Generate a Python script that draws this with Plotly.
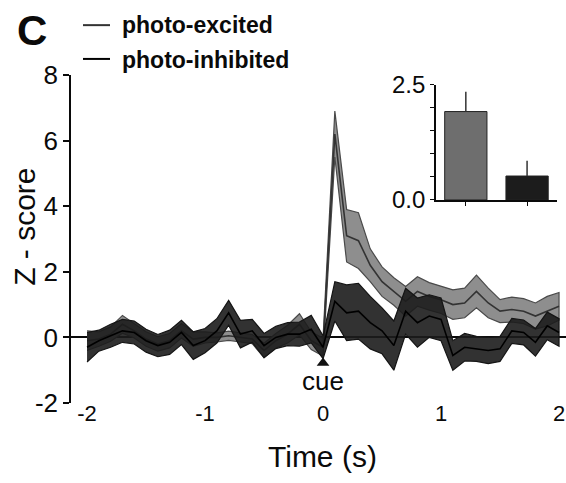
import plotly.graph_objects as go

# ---------------- data ----------------
time_s = [round(-2.0 + 0.1 * i, 1) for i in range(41)]

excited_mean = [-0.1, -0.05, 0.1, 0.4, 0.2, -0.05, -0.2, -0.1, 0.2, -0.05,
                0.0, 0.0, 0.05, 0.0, -0.05, -0.4, -0.1, 0.1, 0.4, -0.1, -0.3,
                6.2, 3.1, 2.95, 2.2, 1.7, 1.4, 1.1, 1.4, 1.25, 1.15,
                1.0, 1.05, 1.4, 1.05, 0.8, 0.85, 0.8, 0.65, 0.8, 0.95]
excited_sem = [0.3, 0.22, 0.22, 0.27, 0.22, 0.22, 0.22, 0.22, 0.22, 0.22,
               0.17, 0.14, 0.14, 0.14, 0.14, 0.22, 0.22, 0.27, 0.32, 0.27, 0.27,
               0.7, 0.8, 0.85, 0.5, 0.45, 0.42, 0.45, 0.45, 0.42, 0.42,
               0.45, 0.45, 0.5, 0.45, 0.35, 0.38, 0.38, 0.4, 0.45, 0.42]

inhibited_mean = [-0.3, -0.1, 0.05, 0.2, 0.15, -0.1, -0.25, -0.15, 0.15, -0.25,
                  -0.1, 0.2, 0.75, 0.1, 0.2, -0.25, 0.0, 0.1, 0.1, 0.25, -0.3,
                  1.1, 0.75, 0.8, 0.45, 0.2, -0.25, 0.8, 0.45, 0.65, 0.55,
                  -0.55, -0.3, -0.35, -0.4, -0.35, 0.2, 0.15, -0.15, 0.35, 0.15]
inhibited_sem = [0.45, 0.32, 0.35, 0.35, 0.35, 0.35, 0.34, 0.37, 0.37, 0.42,
                 0.37, 0.37, 0.38, 0.42, 0.35, 0.37, 0.34, 0.35, 0.37, 0.42, 0.35,
                 0.6, 0.85, 0.85, 0.8, 0.7, 0.75, 0.7, 0.75, 0.65, 0.65,
                 0.45, 0.42, 0.38, 0.4, 0.38, 0.38, 0.38, 0.42, 0.42, 0.42]

cue_time = [0.0]
cue_marker_y = [-0.78]
cue_label_y = -1.33

inset_groups = [0, 1]
inset_names = ["photo-excited", "photo-inhibited"]
inset_values = [1.92, 0.52]
inset_errors = [0.43, 0.33]

y_ticks = [-2, 0, 2, 4, 6, 8]
y_ticktext = ["-2", "0", "2", "4", "6", "8"]
x_ticks = [-2, -1, 0, 1, 2]
x_ticktext = ["-2", "-1", "0", "1", "2"]
inset_ticks = [0, 0.5, 1.0, 1.5, 2.0, 2.5]
inset_ticktext = ["0.0", "", "", "", "", "2.5"]

FONT = "Liberation Sans, Arial, Helvetica, sans-serif"
INK = "#0a0a0a"


def band(mean, sem):
    up = [m + s for m, s in zip(mean, sem)]
    lo = [m - s for m, s in zip(mean, sem)]
    return time_s + time_s[::-1], up + lo[::-1]


fig = go.Figure()

bx, by = band(excited_mean, excited_sem)
fig.add_trace(go.Scatter(x=bx, y=by, fill="toself", fillcolor="#8e8e8e",
                         line=dict(color="#4a4a4a", width=1.2), mode="lines",
                         hoverinfo="skip", showlegend=False))
fig.add_trace(go.Scatter(x=time_s, y=excited_mean, mode="lines",
                         line=dict(color="#333333", width=1.6),
                         name="photo-excited", showlegend=False))

bx, by = band(inhibited_mean, inhibited_sem)
fig.add_trace(go.Scatter(x=bx, y=by, fill="toself", fillcolor="rgba(28,28,28,0.9)",
                         line=dict(color="#151515", width=1.2), mode="lines",
                         hoverinfo="skip", showlegend=False))
fig.add_trace(go.Scatter(x=time_s, y=inhibited_mean, mode="lines",
                         line=dict(color="#000000", width=1.6),
                         name="photo-inhibited", showlegend=False))

fig.add_trace(go.Scatter(x=cue_time, y=cue_marker_y, mode="markers",
                         marker=dict(symbol="triangle-up", size=11, color="#111111"),
                         showlegend=False, hoverinfo="skip"))

fig.add_trace(go.Bar(x=inset_groups, y=inset_values, xaxis="x2", yaxis="y2",
                     width=0.69, hovertext=inset_names,
                     marker=dict(color=["#6e6e6e", "#1c1c1c"],
                                 line=dict(color="#222222", width=1)),
                     error_y=dict(type="data", array=inset_errors,
                                  arrayminus=[0, 0], symmetric=False,
                                  width=0, thickness=1.5, color="#333333"),
                     showlegend=False))

fig.update_layout(
    width=566, height=483,
    margin=dict(l=71, r=0, t=75, b=80),
    paper_bgcolor="white", plot_bgcolor="white",
    font=dict(family=FONT, color=INK),
    showlegend=False,
    xaxis=dict(range=[-2.136, 2.059], showline=False, showgrid=False,
               zeroline=False, ticks="", tickvals=x_ticks, ticktext=x_ticktext,
               ticklabelstandoff=-5,
               tickfont=dict(size=22, family=FONT, color=INK)),
    yaxis=dict(range=[-2, 8], showline=True, linecolor=INK, linewidth=1.5,
               ticks="outside", ticklen=6, tickwidth=1.5, tickcolor=INK,
               tickvals=y_ticks, ticktext=y_ticktext, showgrid=False,
               zeroline=True, zerolinecolor=INK, zerolinewidth=1.5,
               tickfont=dict(size=26, family=FONT, color=INK)),
    xaxis2=dict(domain=[0.737, 0.982], anchor="y2", range=[-0.49, 1.49],
                showline=True, linecolor=INK, linewidth=1.5,
                ticks="outside", ticklen=4, tickwidth=1.2, tickcolor=INK,
                tickvals=inset_groups, showticklabels=False,
                showgrid=False, zeroline=False),
    yaxis2=dict(domain=[0.619, 0.970], anchor="x2", range=[0, 2.5],
                showline=True, linecolor=INK, linewidth=1.5,
                ticks="outside", ticklen=4, tickwidth=1.2, tickcolor=INK,
                tickvals=inset_ticks, ticktext=inset_ticktext,
                showgrid=False, zeroline=False,
                tickfont=dict(size=24, family=FONT, color=INK)),
)

ann = [
    dict(text="<b>C</b>", x=-0.0788, y=1.137, xref="paper", yref="paper",
         showarrow=False, font=dict(size=42, family=FONT, color=INK),
         xanchor="center", yanchor="middle"),
    dict(text="<b>photo-excited</b>", x=0.099, y=1.152, xref="paper", yref="paper",
         showarrow=False, font=dict(size=23, family=FONT, color=INK),
         xanchor="left", yanchor="middle"),
    dict(text="<b>photo-inhibited</b>", x=0.099, y=1.046, xref="paper", yref="paper",
         showarrow=False, font=dict(size=23, family=FONT, color=INK),
         xanchor="left", yanchor="middle"),
    dict(text="Z - score", x=-0.093, y=0.537, xref="paper", yref="paper",
         textangle=-90, showarrow=False, font=dict(size=30, family=FONT, color=INK),
         xanchor="center", yanchor="middle"),
    dict(text="Time (s)", x=0.509, y=-0.162, xref="paper", yref="paper",
         showarrow=False, font=dict(size=30, family=FONT, color=INK),
         xanchor="center", yanchor="middle"),
    dict(text="cue", x=cue_time[0], y=cue_label_y, xref="x", yref="y",
         showarrow=False, font=dict(size=26, family=FONT, color=INK),
         xanchor="center", yanchor="middle"),
]
fig.update_layout(annotations=ann)

fig.update_layout(shapes=[
    dict(type="line", xref="paper", yref="paper", x0=0.0242, x1=0.0788,
         y0=1.152, y1=1.152, line=dict(color="#333333", width=2)),
    dict(type="line", xref="paper", yref="paper", x0=0.0242, x1=0.0788,
         y0=1.049, y1=1.049, line=dict(color="#000000", width=2)),
])

fig.write_html("out.html")
